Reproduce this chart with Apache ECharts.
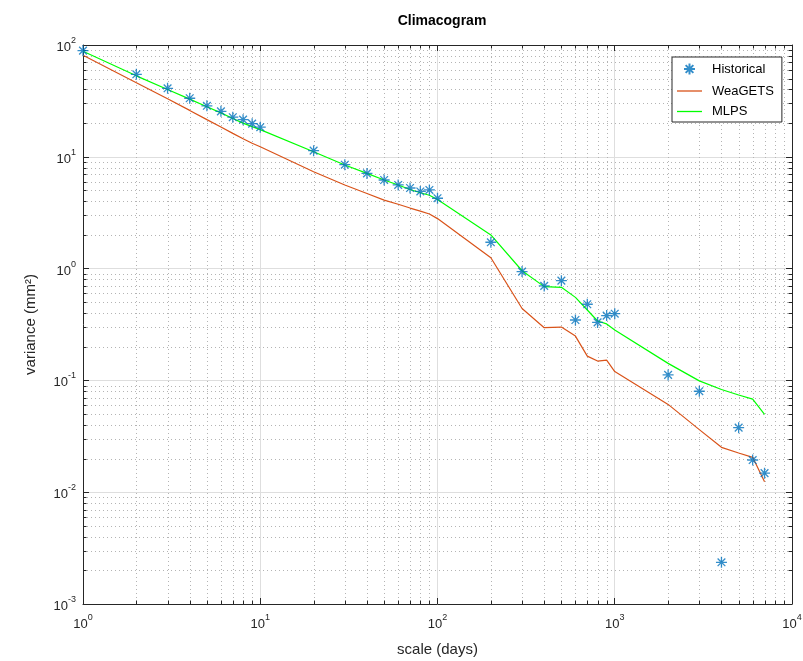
<!DOCTYPE html>
<html>
<head>
<meta charset="utf-8">
<title>Climacogram</title>
<script src="https://cdn.jsdelivr.net/npm/echarts@6/dist/echarts.min.js"></script>
<style>
  html, body { margin: 0; padding: 0; background: #fff; }
  #chart { width: 803px; height: 661px; }
</style>
</head>
<body>
<div id="chart"></div>
<script>
// Aggregation scales (days)
const scales = [1, 2, 3, 4, 5, 6, 7, 8, 9, 10,
  20, 30, 40, 50, 60, 70, 80, 90, 100,
  200, 300, 400, 500, 600, 700, 800, 900, 1000,
  2000, 3000, 4000, 5000, 6000, 7000];

// Variance of aggregated precipitation (mm^2)
const historical = [89, 54.7, 41.0, 33.4, 28.6, 25.5, 22.6, 21.5, 19.8, 18.4,
  11.35, 8.5, 7.1, 6.2, 5.6, 5.26, 4.9, 5.05, 4.26,
  1.72, 0.94, 0.70, 0.78, 0.347, 0.48, 0.33, 0.38, 0.395,
  0.112, 0.080, 0.00236, 0.0378, 0.0194, 0.0148];

const weagets = [81, 46, 33, 26, 21.5, 18.5, 16.2, 14.5, 13.2, 12.3,
  7.36, 5.6, 4.7, 4.1, 3.76, 3.48, 3.27, 3.08, 2.8,
  1.25, 0.44, 0.296, 0.30, 0.249, 0.165, 0.149, 0.152, 0.12,
  0.061, 0.0363, 0.0252, 0.0224, 0.0205, 0.0124];

const mlps = [88, 53, 40, 32.8, 28, 24.7, 22, 20, 18.6, 17.5,
  11.1, 8.45, 7.1, 6.2, 5.6, 5.1, 4.77, 4.53, 4.15,
  2.0, 0.957, 0.69, 0.68, 0.553, 0.426, 0.34, 0.32, 0.282,
  0.142, 0.099, 0.083, 0.074, 0.068, 0.0497];

// Axis ranges (decades)
const xRange = [1, 10000];
const yRange = [0.001, 100];
const xMinor = [2, 3, 4, 5, 6, 7, 8, 9, 20, 30, 40, 50, 60, 70, 80, 90,
  200, 300, 400, 500, 600, 700, 800, 900, 2000, 3000, 4000, 5000, 6000, 7000, 8000, 9000];
const yMinor = [0.002, 0.003, 0.004, 0.005, 0.006, 0.007, 0.008, 0.009,
  0.02, 0.03, 0.04, 0.05, 0.06, 0.07, 0.08, 0.09,
  0.2, 0.3, 0.4, 0.5, 0.6, 0.7, 0.8, 0.9,
  2, 3, 4, 5, 6, 7, 8, 9, 20, 30, 40, 50, 60, 70, 80, 90];

const FONT = 'Liberation Sans, Arial, Helvetica, sans-serif';
const INK = '#262626';
const BLUE = '#0072BD';
const ORANGE = '#D95319';
const GREEN = '#00FF00';

const zip = (xs, ys) => xs.map((x, i) => [x, ys[i]]);

const powLabel = {
  formatter: v => '{b|10}{s|' + Math.round(Math.log10(v)) + '}',
  rich: {
    b: { fontSize: 13, fontFamily: FONT, color: INK, lineHeight: 18, verticalAlign: 'bottom' },
    s: { fontSize: 9, fontFamily: FONT, color: INK, lineHeight: 18, verticalAlign: 'top' }
  }
};

// Dotted minor grid plus short inward minor ticks on both opposite edges
function minorRender(dir) {
  return function (params, api) {
    const cs = params.coordSys;
    const p = api.coord([api.value(0), api.value(1)]);
    const L = cs.x, R = cs.x + cs.width, T = cs.y, B = cs.y + cs.height;
    const dotted = { stroke: '#b4b4b4', lineWidth: 1, lineDash: [1, 3] };
    const tick = { stroke: INK, lineWidth: 1 };
    const t = 3.5;
    if (dir === 'x') {
      const x = Math.round(p[0]) + 0.5;
      return { type: 'group', children: [
        { type: 'line', shape: { x1: x, y1: T, x2: x, y2: B }, style: dotted },
        { type: 'line', shape: { x1: x, y1: B, x2: x, y2: B - t }, style: tick },
        { type: 'line', shape: { x1: x, y1: T, x2: x, y2: T + t }, style: tick }
      ]};
    }
    const y = Math.round(p[1]) + 0.5;
    return { type: 'group', children: [
      { type: 'line', shape: { x1: L, y1: y, x2: R, y2: y }, style: dotted },
      { type: 'line', shape: { x1: L, y1: y, x2: L + t, y2: y }, style: tick },
      { type: 'line', shape: { x1: R, y1: y, x2: R - t, y2: y }, style: tick }
    ]};
  };
}

// Asterisk marker (plus and cross combined)
const asterisk = 'path://M0,5L10,5M5,0L5,10M1.5,1.5L8.5,8.5M8.5,1.5L1.5,8.5';
// Plain line swatch for the legend
const lineSwatch = 'path://M0,0L25,0L25,1.3L0,1.3Z';

const chart = echarts.init(document.getElementById('chart'), null, { renderer: 'canvas' });

const baseAxis = {
  type: 'log',
  logBase: 10,
  axisLine: { show: true, onZero: false, lineStyle: { color: INK, width: 1 } },
  axisTick: { show: true, inside: true, length: 6, lineStyle: { color: INK, width: 1 } },
  minorTick: { show: false },
  minorSplitLine: { show: false }
};

chart.setOption({
  animation: false,
  backgroundColor: '#fff',
  title: {
    text: 'Climacogram',
    left: 437,
    textAlign: 'center',
    top: 9,
    textStyle: { fontFamily: FONT, fontSize: 14, fontWeight: 'bold', color: '#000' }
  },
  grid: { left: 83, right: 11, top: 45, bottom: 57, outerBoundsMode: 'none' },
  legend: {
    orient: 'vertical',
    left: 672,
    top: 57,
    data: [
      { name: 'Historical' },
      { name: 'WeaGETS', icon: lineSwatch },
      { name: 'MLPS', icon: lineSwatch }
    ],
    backgroundColor: '#fff',
    borderColor: INK,
    borderWidth: 1,
    borderRadius: 0,
    padding: [4, 8, 4, 5],
    itemWidth: 25,
    itemHeight: 11,
    itemGap: 7.5,
    textStyle: { fontFamily: FONT, fontSize: 13, color: '#000', padding: [0, 0, 0, 5] }
  },
  xAxis: [
    Object.assign({}, baseAxis, {
      min: xRange[0], max: xRange[1], splitNumber: 4,
      position: 'bottom',
      name: 'scale (days)', nameLocation: 'middle', nameGap: 38,
      nameTextStyle: { fontFamily: FONT, fontSize: 15, color: INK },
      axisLabel: Object.assign({ margin: 9 }, powLabel),
      splitLine: { show: true, lineStyle: { color: '#dedede', width: 1 } }
    }),
    Object.assign({}, baseAxis, {
      min: xRange[0], max: xRange[1], splitNumber: 4,
      position: 'top',
      axisLabel: { show: false },
      splitLine: { show: false }
    })
  ],
  yAxis: [
    Object.assign({}, baseAxis, {
      min: yRange[0], max: yRange[1], splitNumber: 5,
      position: 'left',
      name: 'variance (mm²)', nameLocation: 'middle', nameGap: 45,
      nameTextStyle: { fontFamily: FONT, fontSize: 15, color: INK },
      axisLabel: Object.assign({ margin: 7 }, powLabel),
      splitLine: { show: true, lineStyle: { color: '#dedede', width: 1 } }
    }),
    Object.assign({}, baseAxis, {
      min: yRange[0], max: yRange[1], splitNumber: 5,
      position: 'right',
      axisLabel: { show: false },
      splitLine: { show: false }
    })
  ],
  series: [
    {
      name: 'xminor', type: 'custom', silent: true, z: 1,
      renderItem: minorRender('x'),
      data: xMinor.map(v => [v, 1])
    },
    {
      name: 'yminor', type: 'custom', silent: true, z: 1,
      renderItem: minorRender('y'),
      data: yMinor.map(v => [1, v])
    },
    {
      name: 'Historical', type: 'scatter', z: 5,
      symbol: asterisk, symbolSize: 11, symbolKeepAspect: true,
      itemStyle: { color: 'none', borderColor: BLUE, borderWidth: 1.3 },
      data: zip(scales, historical)
    },
    {
      name: 'WeaGETS', type: 'line', z: 4,
      symbol: 'none', showSymbol: false,
      lineStyle: { color: ORANGE, width: 1.2 },
      itemStyle: { color: ORANGE },
      data: zip(scales, weagets)
    },
    {
      name: 'MLPS', type: 'line', z: 4,
      symbol: 'none', showSymbol: false,
      lineStyle: { color: GREEN, width: 1.2 },
      itemStyle: { color: GREEN },
      data: zip(scales, mlps)
    }
  ]
});
</script>
</body>
</html>
